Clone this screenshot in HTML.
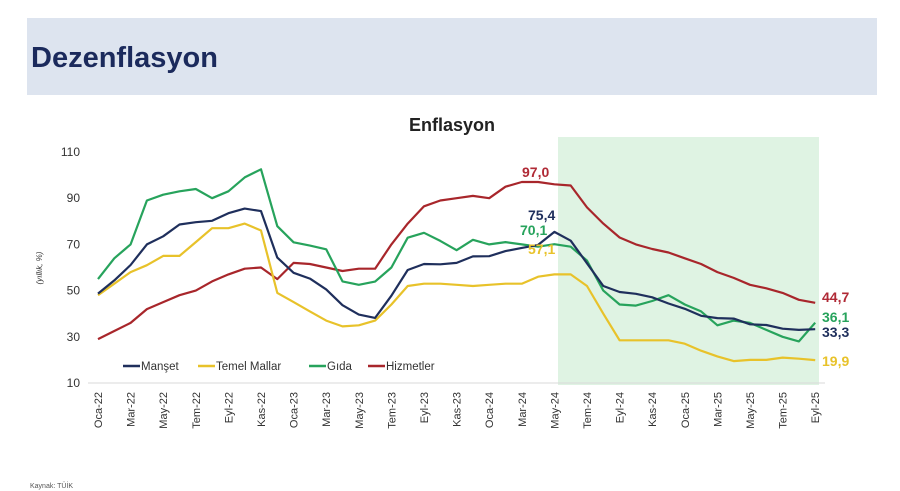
<!DOCTYPE html>
<html><head><meta charset="utf-8"><style>
html,body{margin:0;padding:0;background:#fff;width:900px;height:491px;overflow:hidden}
svg{display:block}
text{font-family:"Liberation Sans",sans-serif}
</style></head><body>
<svg id="s" width="900" height="491" viewBox="0 0 900 491" xmlns="http://www.w3.org/2000/svg">
<rect x="27" y="18" width="850" height="77" fill="#dde4ef"/>
<text x="31" y="67" font-size="29" font-weight="bold" fill="#1b2a5c">Dezenflasyon</text>
<text x="452" y="131" font-size="18" font-weight="bold" fill="#222" text-anchor="middle">Enflasyon</text>
<rect x="558" y="137" width="261" height="248" fill="#dff3e3"/>
<line x1="88" y1="383" x2="825" y2="383" stroke="#d8d8d8" stroke-width="1"/>
<g id="yt" font-size="12" fill="#333" text-anchor="end"></g>
<text transform="translate(42,268) rotate(-90)" font-size="8" font-style="italic" fill="#333" text-anchor="middle">(yıllık, %)</text>
<g id="xt" font-size="11" fill="#333"></g>
<g id="lines" fill="none" stroke-width="2.2" stroke-linejoin="round"></g>
<g font-size="11.5" fill="#333">
<line x1="123" y1="366" x2="140" y2="366" stroke="#1f2f5c" stroke-width="2.5"/><text x="141" y="370">Manşet</text>
<line x1="198" y1="366" x2="215" y2="366" stroke="#e8c22a" stroke-width="2.5"/><text x="216" y="370">Temel Mallar</text>
<line x1="309" y1="366" x2="326" y2="366" stroke="#27a35c" stroke-width="2.5"/><text x="327" y="370">Gıda</text>
<line x1="368" y1="366" x2="385" y2="366" stroke="#a8262b" stroke-width="2.5"/><text x="386" y="370">Hizmetler</text>
</g>
<g font-size="14" font-weight="bold">
<text x="522" y="177" fill="#b02a36">97,0</text>
<text x="528" y="220" fill="#1f2f5c">75,4</text>
<text x="520" y="235" fill="#27a35c">70,1</text>
<text x="528" y="254" fill="#e8c22a">57,1</text>
<text x="822" y="302" fill="#b02a36">44,7</text>
<text x="822" y="322" fill="#27a35c">36,1</text>
<text x="822" y="337" fill="#1f2f5c">33,3</text>
<text x="822" y="366" fill="#e8c22a">19,9</text>
</g>
<text x="30" y="488" font-size="7" fill="#555">Kaynak: TÜİK</text>
</svg>
<script>
var ns="http://www.w3.org/2000/svg";
function X(i){return 98+i*16.3}
function Y(v){return 383-(v-10)*2.31}
var yt=document.getElementById('yt');
[10,30,50,70,90,110].forEach(function(v){var t=document.createElementNS(ns,'text');t.setAttribute('x',80);t.setAttribute('y',Y(v)+4);t.textContent=v;yt.appendChild(t);});
var mon=['Oca','Mar','May','Tem','Eyl','Kas'];
var xt=document.getElementById('xt');
for(var i=0;i<45;i+=2){var yr=22+Math.floor(i/12);var m=mon[(i%12)/2];var t=document.createElementNS(ns,'text');
t.setAttribute('transform','translate('+(X(i)+4)+',392) rotate(-90)');t.setAttribute('text-anchor','end');t.textContent=m+'-'+yr;xt.appendChild(t);}
var D={
'#a8262b':[29,32.5,36,42,45,48,50,54,57,59.5,60,55,62,61.5,60,58.5,59.5,59.5,70,79,86.5,89,90,91,90,95,97,97,96,95.5,86,79,73,70,68,66.5,64,61.5,58,55.5,52.5,51,49,46,44.7],
'#e8c22a':[48,53,58,61,65,65,71,77,77,79,76,49,45,41,37,34.5,35,37,44,52,53,53,52.5,52,52.5,53,53,56,57,57,52,40,28.5,28.5,28.5,28.5,27,24,21.5,19.5,20,20,21,20.5,19.9],
'#27a35c':[55,64,70,89,91.5,93,94,90,93,99,102.5,77.9,70.9,69.5,67.9,54,52.5,53.9,60,72.9,75,71.5,67.5,72,70,71,70,69,70.1,69,63,50,44,43.5,45.5,48,44,41,35,37,36,33,30,28,36.1],
'#1f2f5c':[48.7,54.4,61.1,70,73.5,78.6,79.6,80.2,83.5,85.5,84.4,64.3,57.7,55.2,50.5,43.7,39.6,38.2,47.8,58.9,61.5,61.4,62,64.8,64.9,67.1,68.5,69.8,75.4,71.6,61.8,52,49.4,48.6,47.1,44.4,42.1,39.1,38.1,37.9,35.4,35.1,33.5,33,33.3]};
var g=document.getElementById('lines');
for(var c in D){var p=document.createElementNS(ns,'polyline');p.setAttribute('stroke',c);
p.setAttribute('points',D[c].map(function(v,i){return X(i).toFixed(1)+','+Y(v).toFixed(1)}).join(' '));g.appendChild(p);}
</script>
</body></html>
